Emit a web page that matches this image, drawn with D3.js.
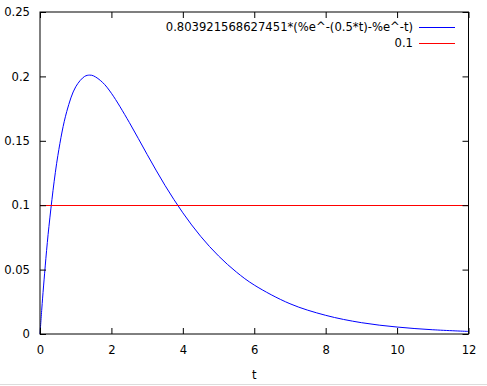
<!DOCTYPE html>
<html>
<head>
<meta charset="utf-8">
<script src="https://cdn.jsdelivr.net/npm/d3@7"></script>
<style>
  body { margin: 0; background: #fff; }
  svg text { font-family: 'DejaVu Sans', sans-serif; font-size: 11.6px; fill: #000; }
</style>
</head>
<body>
<div id="chart"></div>
<script>
// curve samples (t, value)
const tValues = [0, 0.05, 0.1, 0.25, 0.5, 0.75, 1, 1.25, 1.39, 1.5, 1.75, 2, 2.5, 3, 3.5, 4, 4.5, 5, 5.5, 6, 7, 8, 9, 10, 11, 12]
const yValues = [0, 0.0194, 0.0373, 0.0834, 0.1385, 0.1728, 0.1919, 0.2000, 0.2010, 0.2004, 0.1954, 0.1869, 0.1643, 0.1394, 0.1154, 0.0941, 0.0758, 0.0606, 0.0481, 0.0380, 0.0235, 0.0145, 0.0088, 0.0054, 0.0033, 0.0020]
const constLevel = 0.1
const xTicks = [0, 2, 4, 6, 8, 10, 12]
const yTicks = [0, 0.05, 0.1, 0.15, 0.2, 0.25]
const legendLabels = ['0.803921568627451*(%e^-(0.5*t)-%e^-t)', '0.1']
const seriesColors = ['#0000ff', '#ff0000']
const xLabel = 't'

const width = 487
const height = 386
const margin = { top: 12, right: 18, bottom: 52, left: 40 }

const svg = d3.select('#chart')
  .append('svg')
  .attr('width', width)
  .attr('height', height)

const x = d3.scaleLinear().domain([0, 12]).range([margin.left, width - margin.right - 0.5])
const y = d3.scaleLinear().domain([0, 0.25]).range([height - margin.bottom, margin.top])

// bottom window edge
svg.append('line')
  .attr('x1', 0).attr('x2', width)
  .attr('y1', 384.5).attr('y2', 384.5)
  .attr('stroke', '#dcdcdc')

const g = svg.append('g')

// series
const points = tValues.map((t, i) => [t, yValues[i]])
g.append('path')
  .datum(points)
  .attr('fill', 'none')
  .attr('stroke', seriesColors[0])
  .attr('stroke-width', 1)
  .attr('d', d3.line().x(d => x(d[0])).y(d => y(d[1])).curve(d3.curveCatmullRom.alpha(0.5)))

g.append('line')
  .attr('x1', x(0)).attr('x2', x(12))
  .attr('y1', Math.round(y(constLevel)) + 0.5).attr('y2', Math.round(y(constLevel)) + 0.5)
  .attr('stroke', seriesColors[1])

// axes with inward ticks, mirrored on top and right
const tickLen = 6
const bottomAxis = d3.axisBottom(x).tickValues(xTicks).tickSize(-tickLen).tickPadding(12).tickFormat(d3.format('d'))
const topAxis = d3.axisTop(x).tickValues(xTicks).tickSize(-tickLen).tickFormat('')
const leftAxis = d3.axisLeft(y).tickValues(yTicks).tickSize(-tickLen).tickPadding(10).tickFormat(d => d === 0 ? '0' : String(d))
const rightAxis = d3.axisRight(y).tickValues(yTicks).tickSize(-tickLen).tickFormat('')

function styleAxis(sel) {
  sel.select('.domain').remove()
  sel.selectAll('line').attr('stroke', '#000')
  sel.selectAll('text').attr('font-family', null).attr('font-size', null)
}

g.append('g').attr('transform', `translate(0,${y(0)})`).call(bottomAxis).call(styleAxis)
g.append('g').attr('transform', `translate(0,${y(0.25)})`).call(topAxis).call(styleAxis)
g.append('g').attr('transform', `translate(${x(0)},0)`).call(leftAxis).call(styleAxis)
g.append('g').attr('transform', `translate(${x(12)},0)`).call(rightAxis).call(styleAxis)

// frame
g.append('rect')
  .attr('x', x(0)).attr('y', y(0.25))
  .attr('width', x(12) - x(0)).attr('height', y(0) - y(0.25))
  .attr('fill', 'none')
  .attr('stroke', '#000')

// x label
svg.append('text')
  .attr('x', (x(0) + x(12)) / 2)
  .attr('y', 379)
  .attr('text-anchor', 'middle')
  .text(xLabel)

// legend
const legend = svg.append('g')
legendLabels.forEach((label, i) => {
  const ly = 27 + i * 16
  legend.append('text')
    .attr('x', 413)
    .attr('y', ly)
    .attr('dy', '0.35em')
    .attr('text-anchor', 'end')
    .text(label)
  legend.append('line')
    .attr('x1', 419).attr('x2', 455)
    .attr('y1', ly + 0.5).attr('y2', ly + 0.5)
    .attr('stroke', seriesColors[i])
})
</script>
</body>
</html>
